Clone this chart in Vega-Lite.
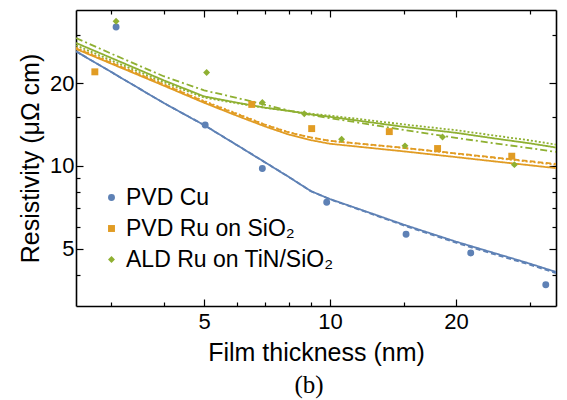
{
  "$schema": "https://vega.github.io/schema/vega-lite/v6.json",
  "width": 480,
  "height": 296,
  "autosize": {"type": "none"},
  "padding": {"left": 76, "top": 10, "right": 11, "bottom": 94},
  "background": "white",
  "title": {"text": "(b)", "orient": "bottom", "anchor": "middle", "font": "Liberation Serif", "fontSize": 25, "fontWeight": "normal", "color": "black", "offset": 8, "dx": -7},
  "config": {
    "view": {"stroke": null, "fill": null},
    "axis": {"ticks": true, "zindex": 2, "tickOpacity": 1, "domainColor": "black", "domainWidth": 1.6, "tickColor": "black", "tickWidth": 1.2, "labelFont": "Liberation Sans", "labelFontSize": 22, "labelColor": "black", "titleFont": "Liberation Sans", "titleFontSize": 25, "titleFontWeight": "normal", "titleColor": "black", "grid": false},
    "legend": {"labelFont": "Liberation Sans", "labelFontSize": 23, "labelColor": "black", "labelLimit": 0}
  },
  "datasets": {
    "points": [
      {"series": "PVD Cu", "x": 3.08, "y": 32.0},
      {"series": "PVD Cu", "x": 5.03, "y": 14.08},
      {"series": "PVD Cu", "x": 6.89, "y": 9.78},
      {"series": "PVD Cu", "x": 9.82, "y": 7.37},
      {"series": "PVD Cu", "x": 15.2, "y": 5.64},
      {"series": "PVD Cu", "x": 21.7, "y": 4.82},
      {"series": "PVD Cu", "x": 32.8, "y": 3.69},
      {"series": "PVD Ru on SiO₂", "x": 2.74, "y": 21.98},
      {"series": "PVD Ru on SiO₂", "x": 6.5, "y": 16.73},
      {"series": "PVD Ru on SiO₂", "x": 9.04, "y": 13.66},
      {"series": "PVD Ru on SiO₂", "x": 13.86, "y": 13.32},
      {"series": "PVD Ru on SiO₂", "x": 18.08, "y": 11.56},
      {"series": "PVD Ru on SiO₂", "x": 27.2, "y": 10.84},
      {"series": "ALD Ru on TiN/SiO₂", "x": 3.08, "y": 33.6},
      {"series": "ALD Ru on TiN/SiO₂", "x": 5.07, "y": 21.85},
      {"series": "ALD Ru on TiN/SiO₂", "x": 6.89, "y": 17.01},
      {"series": "ALD Ru on TiN/SiO₂", "x": 8.68, "y": 15.48},
      {"series": "ALD Ru on TiN/SiO₂", "x": 10.66, "y": 12.49},
      {"series": "ALD Ru on TiN/SiO₂", "x": 15.11, "y": 11.82},
      {"series": "ALD Ru on TiN/SiO₂", "x": 18.58, "y": 12.74},
      {"series": "ALD Ru on TiN/SiO₂", "x": 27.6, "y": 10.1}
    ],
    "lines": [
      {"series": "Cu", "style": "solid", "x": 2.47, "y": 26.1},
      {"series": "Cu", "style": "solid", "x": 3, "y": 21.94},
      {"series": "Cu", "style": "solid", "x": 4, "y": 16.94},
      {"series": "Cu", "style": "solid", "x": 5, "y": 14.07},
      {"series": "Cu", "style": "solid", "x": 6, "y": 11.88},
      {"series": "Cu", "style": "solid", "x": 7, "y": 10.29},
      {"series": "Cu", "style": "solid", "x": 8, "y": 9.08},
      {"series": "Cu", "style": "solid", "x": 9, "y": 8.09},
      {"series": "Cu", "style": "solid", "x": 10, "y": 7.57},
      {"series": "Cu", "style": "solid", "x": 12, "y": 6.88},
      {"series": "Cu", "style": "solid", "x": 15, "y": 6.11},
      {"series": "Cu", "style": "solid", "x": 20, "y": 5.3},
      {"series": "Cu", "style": "solid", "x": 25, "y": 4.79},
      {"series": "Cu", "style": "solid", "x": 30, "y": 4.41},
      {"series": "Cu", "style": "solid", "x": 34.7, "y": 4.11},
      {"series": "Cu", "style": "dashed", "x": 2.47, "y": 26.1},
      {"series": "Cu", "style": "dashed", "x": 3, "y": 21.94},
      {"series": "Cu", "style": "dashed", "x": 4, "y": 16.94},
      {"series": "Cu", "style": "dashed", "x": 5, "y": 14.07},
      {"series": "Cu", "style": "dashed", "x": 6, "y": 11.88},
      {"series": "Cu", "style": "dashed", "x": 7, "y": 10.29},
      {"series": "Cu", "style": "dashed", "x": 8, "y": 9.08},
      {"series": "Cu", "style": "dashed", "x": 9, "y": 8.09},
      {"series": "Cu", "style": "dashed", "x": 10, "y": 7.55},
      {"series": "Cu", "style": "dashed", "x": 12, "y": 6.85},
      {"series": "Cu", "style": "dashed", "x": 15, "y": 6.07},
      {"series": "Cu", "style": "dashed", "x": 20, "y": 5.25},
      {"series": "Cu", "style": "dashed", "x": 25, "y": 4.74},
      {"series": "Cu", "style": "dashed", "x": 30, "y": 4.37},
      {"series": "Cu", "style": "dashed", "x": 34.7, "y": 4.07},
      {"series": "RuPVD", "style": "solid", "x": 2.47, "y": 26.63},
      {"series": "RuPVD", "style": "solid", "x": 3, "y": 23.53},
      {"series": "RuPVD", "style": "solid", "x": 4, "y": 19.59},
      {"series": "RuPVD", "style": "solid", "x": 5, "y": 16.96},
      {"series": "RuPVD", "style": "solid", "x": 6, "y": 15.2},
      {"series": "RuPVD", "style": "solid", "x": 7, "y": 13.9},
      {"series": "RuPVD", "style": "solid", "x": 8, "y": 12.97},
      {"series": "RuPVD", "style": "solid", "x": 9, "y": 12.4},
      {"series": "RuPVD", "style": "solid", "x": 10, "y": 12.03},
      {"series": "RuPVD", "style": "solid", "x": 12, "y": 11.69},
      {"series": "RuPVD", "style": "solid", "x": 15, "y": 11.29},
      {"series": "RuPVD", "style": "solid", "x": 20, "y": 10.76},
      {"series": "RuPVD", "style": "solid", "x": 25, "y": 10.36},
      {"series": "RuPVD", "style": "solid", "x": 30, "y": 10.05},
      {"series": "RuPVD", "style": "solid", "x": 34.7, "y": 9.81},
      {"series": "RuPVD", "style": "dashed", "x": 2.47, "y": 26.76},
      {"series": "RuPVD", "style": "dashed", "x": 3, "y": 23.67},
      {"series": "RuPVD", "style": "dashed", "x": 4, "y": 19.75},
      {"series": "RuPVD", "style": "dashed", "x": 5, "y": 17.13},
      {"series": "RuPVD", "style": "dashed", "x": 6, "y": 15.4},
      {"series": "RuPVD", "style": "dashed", "x": 7, "y": 14.1},
      {"series": "RuPVD", "style": "dashed", "x": 8, "y": 13.2},
      {"series": "RuPVD", "style": "dashed", "x": 9, "y": 12.68},
      {"series": "RuPVD", "style": "dashed", "x": 10, "y": 12.33},
      {"series": "RuPVD", "style": "dashed", "x": 12, "y": 12.02},
      {"series": "RuPVD", "style": "dashed", "x": 15, "y": 11.63},
      {"series": "RuPVD", "style": "dashed", "x": 20, "y": 11.1},
      {"series": "RuPVD", "style": "dashed", "x": 25, "y": 10.71},
      {"series": "RuPVD", "style": "dashed", "x": 30, "y": 10.4},
      {"series": "RuPVD", "style": "dashed", "x": 34.7, "y": 10.16},
      {"series": "RuPVD", "style": "dotted", "x": 2.47, "y": 26.95},
      {"series": "RuPVD", "style": "dotted", "x": 3, "y": 23.81},
      {"series": "RuPVD", "style": "dotted", "x": 4, "y": 19.84},
      {"series": "RuPVD", "style": "dotted", "x": 5, "y": 17.21},
      {"series": "RuPVD", "style": "dotted", "x": 6, "y": 15.48},
      {"series": "RuPVD", "style": "dotted", "x": 7, "y": 14.12},
      {"series": "RuPVD", "style": "dotted", "x": 8, "y": 13.23},
      {"series": "RuPVD", "style": "dotted", "x": 9, "y": 12.67},
      {"series": "RuPVD", "style": "dotted", "x": 10, "y": 12.32},
      {"series": "RuPVD", "style": "dotted", "x": 12, "y": 11.99},
      {"series": "RuPVD", "style": "dotted", "x": 15, "y": 11.61},
      {"series": "RuPVD", "style": "dotted", "x": 20, "y": 11.08},
      {"series": "RuPVD", "style": "dotted", "x": 25, "y": 10.67},
      {"series": "RuPVD", "style": "dotted", "x": 30, "y": 10.35},
      {"series": "RuPVD", "style": "dotted", "x": 34.7, "y": 10.1},
      {"series": "RuALD", "style": "solid", "x": 2.47, "y": 28.0},
      {"series": "RuALD", "style": "solid", "x": 3, "y": 24.69},
      {"series": "RuALD", "style": "solid", "x": 4, "y": 20.48},
      {"series": "RuALD", "style": "solid", "x": 5, "y": 17.89},
      {"series": "RuALD", "style": "solid", "x": 6, "y": 16.97},
      {"series": "RuALD", "style": "solid", "x": 7, "y": 16.28},
      {"series": "RuALD", "style": "solid", "x": 8, "y": 15.83},
      {"series": "RuALD", "style": "solid", "x": 9, "y": 15.39},
      {"series": "RuALD", "style": "solid", "x": 10, "y": 15.08},
      {"series": "RuALD", "style": "solid", "x": 12, "y": 14.52},
      {"series": "RuALD", "style": "solid", "x": 15, "y": 13.87},
      {"series": "RuALD", "style": "solid", "x": 20, "y": 13.19},
      {"series": "RuALD", "style": "solid", "x": 25, "y": 12.55},
      {"series": "RuALD", "style": "solid", "x": 30, "y": 12.08},
      {"series": "RuALD", "style": "solid", "x": 34.7, "y": 11.66},
      {"series": "RuALD", "style": "dotted", "x": 2.47, "y": 27.44},
      {"series": "RuALD", "style": "dotted", "x": 3, "y": 24.2},
      {"series": "RuALD", "style": "dotted", "x": 4, "y": 20.17},
      {"series": "RuALD", "style": "dotted", "x": 5, "y": 17.71},
      {"series": "RuALD", "style": "dotted", "x": 6, "y": 16.89},
      {"series": "RuALD", "style": "dotted", "x": 7, "y": 16.25},
      {"series": "RuALD", "style": "dotted", "x": 8, "y": 15.83},
      {"series": "RuALD", "style": "dotted", "x": 9, "y": 15.47},
      {"series": "RuALD", "style": "dotted", "x": 10, "y": 15.23},
      {"series": "RuALD", "style": "dotted", "x": 12, "y": 14.74},
      {"series": "RuALD", "style": "dotted", "x": 15, "y": 14.15},
      {"series": "RuALD", "style": "dotted", "x": 20, "y": 13.48},
      {"series": "RuALD", "style": "dotted", "x": 25, "y": 12.86},
      {"series": "RuALD", "style": "dotted", "x": 30, "y": 12.38},
      {"series": "RuALD", "style": "dotted", "x": 34.7, "y": 11.95},
      {"series": "RuALD", "style": "dashdot", "x": 2.47, "y": 29.19},
      {"series": "RuALD", "style": "dashdot", "x": 3, "y": 25.59},
      {"series": "RuALD", "style": "dashdot", "x": 4, "y": 21.19},
      {"series": "RuALD", "style": "dashdot", "x": 5, "y": 18.82},
      {"series": "RuALD", "style": "dashdot", "x": 6, "y": 17.66},
      {"series": "RuALD", "style": "dashdot", "x": 7, "y": 16.68},
      {"series": "RuALD", "style": "dashdot", "x": 8, "y": 15.87},
      {"series": "RuALD", "style": "dashdot", "x": 9, "y": 15.3},
      {"series": "RuALD", "style": "dashdot", "x": 10, "y": 14.91},
      {"series": "RuALD", "style": "dashdot", "x": 12, "y": 14.27},
      {"series": "RuALD", "style": "dashdot", "x": 15, "y": 13.51},
      {"series": "RuALD", "style": "dashdot", "x": 20, "y": 12.64},
      {"series": "RuALD", "style": "dashdot", "x": 25, "y": 12.05},
      {"series": "RuALD", "style": "dashdot", "x": 30, "y": 11.6},
      {"series": "RuALD", "style": "dashdot", "x": 34.7, "y": 11.24}
    ]
  },
  "layer": [
    {
      "data": {"name": "lines"},
      "mark": {"type": "line", "strokeWidth": 1.8, "clip": true},
      "encoding": {
        "x": {"field": "x", "type": "quantitative", "scale": {"type": "log", "domain": [2.47, 34.7], "nice": false},
          "axis": {"orient": "bottom", "title": "Film thickness (nm)", "values": [3, 4, 5, 6, 7, 8, 9, 10, 15, 20, 30], "format": "d",
            "labelExpr": "(datum.value == 5 || datum.value == 10 || datum.value == 20) ? datum.label : ''",
            "ticks": true, "tickSize": {"condition": {"test": "datum.value == 5 || datum.value == 10 || datum.value == 20", "value": -7}, "value": -4},
            "labelPadding": 12, "titlePadding": 8}},
        "y": {"field": "y", "type": "quantitative", "scale": {"type": "log", "domain": [3.09, 36.9], "nice": false},
          "axis": {"orient": "left", "title": "Resistivity (μΩ cm)", "values": [4, 5, 6, 7, 8, 9, 10, 15, 20, 30], "format": "d",
            "labelExpr": "(datum.value == 5 || datum.value == 10 || datum.value == 20) ? datum.label : ''",
            "ticks": true, "tickSize": {"condition": {"test": "datum.value == 5 || datum.value == 10 || datum.value == 20", "value": -7}, "value": -4},
            "labelPadding": 9, "titlePadding": 6}},
        "stroke": {"field": "series", "type": "nominal", "scale": {"domain": ["Cu", "RuPVD", "RuALD"], "range": ["#5E81B5", "#E19C24", "#8FB032"]}, "legend": null},
        "strokeDash": {"field": "style", "type": "nominal", "scale": {"domain": ["solid", "dashed", "dotted", "dashdot"], "range": [[1, 0], [5, 3], [2, 2], [7, 3, 2, 3]]}, "legend": null}
      }
    },
    {
      "data": {"name": "points"},
      "mark": {"type": "point", "filled": true, "opacity": 1},
      "encoding": {
        "x": {"field": "x", "type": "quantitative",
          "axis": {"orient": "top", "title": null, "labels": false, "values": [3, 4, 5, 6, 7, 8, 9, 10, 15, 20, 30], "ticks": true,
            "tickSize": {"condition": {"test": "datum.value == 5 || datum.value == 10 || datum.value == 20", "value": -7}, "value": -4}}},
        "y": {"field": "y", "type": "quantitative",
          "axis": {"orient": "right", "title": null, "labels": false, "values": [4, 5, 6, 7, 8, 9, 10, 15, 20, 30], "ticks": true,
            "tickSize": {"condition": {"test": "datum.value == 5 || datum.value == 10 || datum.value == 20", "value": -7}, "value": -4}}},
        "color": {"field": "series", "type": "nominal", "sort": null,
          "scale": {"domain": ["PVD Cu", "PVD Ru on SiO₂", "ALD Ru on TiN/SiO₂"], "range": ["#5E81B5", "#E19C24", "#8FB032"]},
          "legend": {"title": null, "orient": "none", "legendX": 24, "legendY": 176, "symbolSize": 40, "rowPadding": 7, "labelOffset": 3}},
        "shape": {"field": "series", "type": "nominal", "sort": null,
          "scale": {"domain": ["PVD Cu", "PVD Ru on SiO₂", "ALD Ru on TiN/SiO₂"], "range": ["circle", "square", "diamond"]},
          "legend": {"title": null, "orient": "none", "legendX": 24, "legendY": 176, "symbolSize": 40, "rowPadding": 7, "labelOffset": 3}},
        "size": {"field": "series", "type": "nominal", "sort": null,
          "scale": {"domain": ["PVD Cu", "PVD Ru on SiO₂", "ALD Ru on TiN/SiO₂"], "range": [48, 48, 70]}, "legend": null}
      }
    }
  ],
  "resolve": {"axis": {"x": "independent", "y": "independent"}}
}
